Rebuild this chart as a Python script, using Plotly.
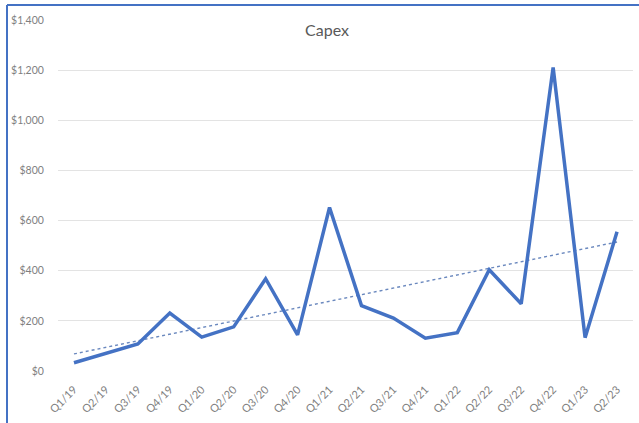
import numpy as np
import plotly.graph_objects as go

quarters = ["Q1/19", "Q2/19", "Q3/19", "Q4/19", "Q1/20", "Q2/20", "Q3/20", "Q4/20",
            "Q1/21", "Q2/21", "Q3/21", "Q4/21", "Q1/22", "Q2/22", "Q3/22", "Q4/22",
            "Q1/23", "Q2/23"]
capex = [33, 70, 108, 231, 135, 176, 368, 144, 652, 261, 211, 131, 153, 404, 268, 1211, 133, 555]
y_ticks = [0, 200, 400, 600, 800, 1000, 1200, 1400]
y_tick_labels = ["$0", "$200", "$400", "$600", "$800", "$1,000", "$1,200", "$1,400"]

# Linear trendline (as Excel's linear trendline)
idx = np.arange(len(capex))
slope, intercept = np.polyfit(idx, capex, 1)
trend = slope * idx + intercept

blue = "#4472C4"
fig = go.Figure()
fig.add_trace(go.Scatter(x=quarters, y=trend, mode="lines",
                         line=dict(color="#6A88BE", width=1.4, dash="dot"),
                         hoverinfo="skip", showlegend=False))
fig.add_trace(go.Scatter(x=quarters, y=capex, mode="lines",
                         line=dict(color=blue, width=3.5), showlegend=False))

W, H = 639, 423
ml, mr, mt, mb = 58, 6, 20, 52
pw, ph = W - ml - mr, H - mt - mb

def px(x):
    return (x - ml) / pw

def py(y):
    return 1 - (y - mt) / ph

fig.update_layout(
    width=W, height=H,
    margin=dict(l=ml, r=mr, t=mt, b=mb, autoexpand=False),
    paper_bgcolor="white", plot_bgcolor="white",
    font=dict(family="Lato, Open Sans, sans-serif", color="#7F7F7F", size=10),
    title=dict(text="Capex", x=327 / W, xanchor="center", y=1 - 30 / H, yanchor="middle",
               xref="container", yref="container",
               font=dict(size=16, color="#595959", family="Lato, Open Sans, sans-serif")),
    xaxis=dict(type="category", showgrid=False, showline=False, zeroline=False,
               tickangle=-45, ticks="outside", ticklen=7, tickcolor="white",
               tickfont=dict(size=11, color="#7F7F7F"),
               range=[-0.5, len(quarters) - 0.5], automargin=False),
    yaxis=dict(range=[0, 1400], tickvals=y_ticks, ticktext=y_tick_labels,
               showgrid=True, gridcolor="#E3E3E3", gridwidth=1, zeroline=False,
               showline=False, ticks="outside", ticklen=11, tickcolor="white",
               tickfont=dict(size=10.5, color="#7F7F7F"), automargin=False),
    shapes=[
        dict(type="line", xref="paper", yref="paper", x0=px(7), x1=px(7),
             y0=py(5), y1=py(430), line=dict(color=blue, width=2)),
        dict(type="line", xref="paper", yref="paper", x0=px(7), x1=px(645),
             y0=py(5), y1=py(5), line=dict(color=blue, width=2)),
    ],
)

fig.write_html("out.html")
